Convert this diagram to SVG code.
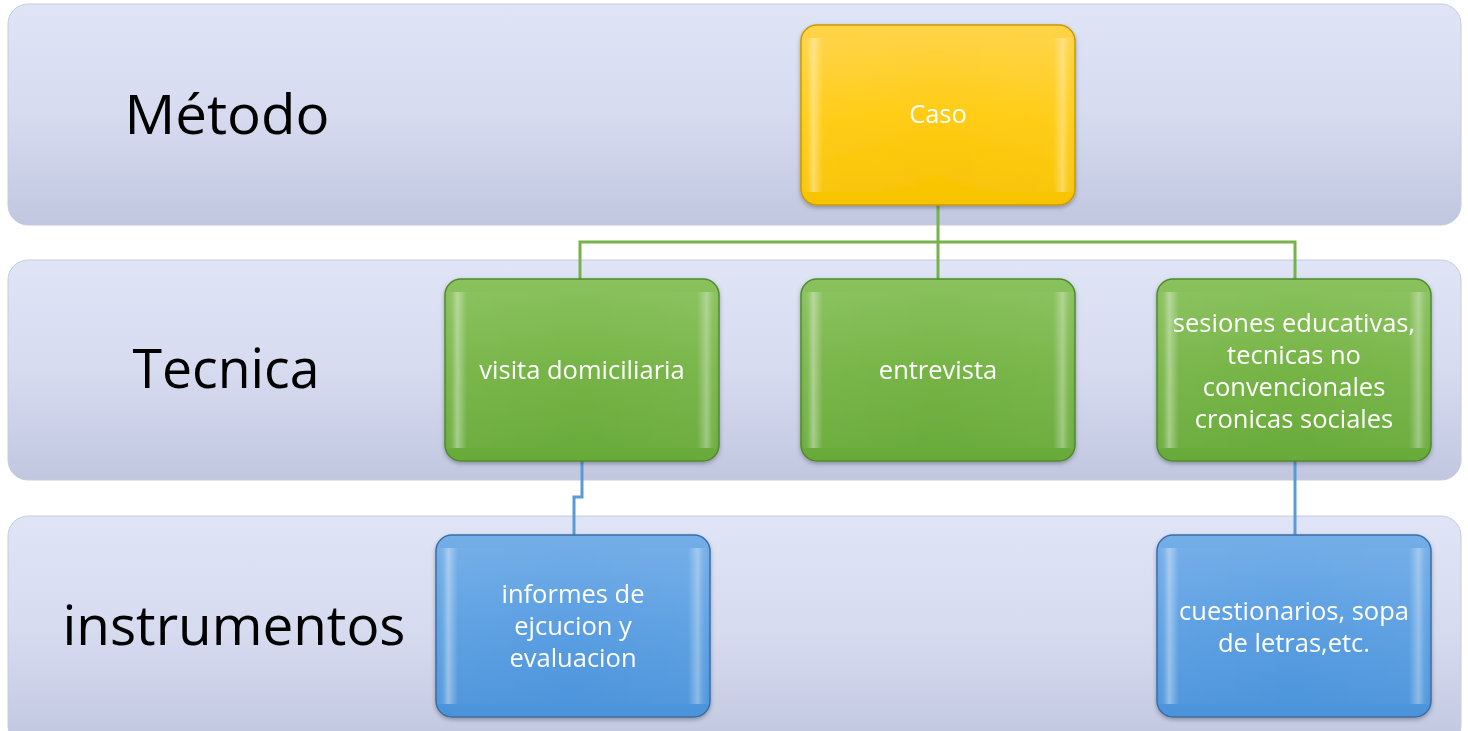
<svg xmlns="http://www.w3.org/2000/svg" width="1468" height="731" viewBox="0 0 1468 731">
<defs>
<linearGradient id="band" x1="0" y1="0" x2="0" y2="1">
<stop offset="0" stop-color="#dfe4f6"/><stop offset="0.5" stop-color="#d6dbf0"/><stop offset="1" stop-color="#c1c7df"/>
</linearGradient>
<linearGradient id="gy" x1="0" y1="0" x2="0" y2="1">
<stop offset="0" stop-color="#ffd449"/><stop offset="0.5" stop-color="#ffcc14"/><stop offset="1" stop-color="#f7c300"/>
</linearGradient>
<linearGradient id="gg" x1="0" y1="0" x2="0" y2="1">
<stop offset="0" stop-color="#8ac25e"/><stop offset="0.5" stop-color="#76b446"/><stop offset="1" stop-color="#68aa3a"/>
</linearGradient>
<linearGradient id="gb" x1="0" y1="0" x2="0" y2="1">
<stop offset="0" stop-color="#74aee8"/><stop offset="0.5" stop-color="#5b9fe2"/><stop offset="1" stop-color="#4b93da"/>
</linearGradient>
<linearGradient id="bevel" x1="0" y1="0" x2="1" y2="0">
<stop offset="0" stop-color="#fff" stop-opacity="0"/>
<stop offset="0.025" stop-color="#fff" stop-opacity="0.1"/>
<stop offset="0.045" stop-color="#fff" stop-opacity="0.4"/>
<stop offset="0.08" stop-color="#fff" stop-opacity="0.03"/>
<stop offset="0.5" stop-color="#fff" stop-opacity="0"/>
<stop offset="0.92" stop-color="#fff" stop-opacity="0.03"/>
<stop offset="0.955" stop-color="#fff" stop-opacity="0.35"/>
<stop offset="0.975" stop-color="#fff" stop-opacity="0.1"/>
<stop offset="1" stop-color="#fff" stop-opacity="0"/>
</linearGradient>
<filter id="sh" x="-10%" y="-10%" width="120%" height="125%">
<feDropShadow dx="0" dy="2" stdDeviation="2" flood-color="#000" flood-opacity="0.3"/>
</filter>
</defs>
<style>
.band{fill:url(#band);stroke:#c6cbe0;stroke-width:1}
.lbl{font-family:"Open Sans","Liberation Sans",sans-serif;font-size:55px;fill:#000;text-anchor:middle}
.nt{font-family:"Open Sans","Liberation Sans",sans-serif;font-size:25.5px;fill:#fff;text-anchor:middle}
.y{fill:url(#gy);stroke:#c79b00;stroke-width:1.5}
.g{fill:url(#gg);stroke:#4f8a2d;stroke-width:1.5}
.b{fill:url(#gb);stroke:#3b6ea5;stroke-width:1.5}
.bv{fill:url(#bevel)}
.cg{fill:none;stroke:#77b24a;stroke-width:3}
.cb{fill:none;stroke:#5b9bd5;stroke-width:3}
</style>
<rect width="1468" height="731" fill="#ffffff"/>
<g id="band-metodo">
<rect class="band" x="8" y="4" width="1453" height="221" rx="20"/>
<text class="lbl" x="227" y="134" textLength="205" lengthAdjust="spacingAndGlyphs">Método</text>
</g>
<g id="band-tecnica">
<rect class="band" x="8" y="260" width="1453" height="220" rx="20"/>
<text class="lbl" x="226" y="388" textLength="187" lengthAdjust="spacingAndGlyphs">Tecnica</text>
</g>
<g id="band-instrumentos">
<rect class="band" x="8" y="516" width="1453" height="230" rx="20"/>
<text class="lbl" x="234" y="645" textLength="343" lengthAdjust="spacingAndGlyphs">instrumentos</text>
</g>
<g id="connectors">
<path class="cg" d="M938 205 V242 M580 279 V242 H1295 V279 M938 242 V279"/>
<path class="cb" d="M582 461 V497 H574 V535"/>
<path class="cb" d="M1295 461 V535"/>
</g>
<g id="caso" filter="url(#sh)">
<rect class="y" x="801" y="25" width="274" height="180" rx="16"/>
<rect class="bv" x="801" y="38" width="274" height="154"/>
<text class="nt" x="938" y="123">Caso</text>
</g>
<g id="visita" filter="url(#sh)">
<rect class="g" x="445" y="279" width="274" height="182" rx="16"/>
<rect class="bv" x="445" y="292" width="274" height="156"/>
<text class="nt" x="582" y="379">visita domiciliaria</text>
</g>
<g id="entrevista" filter="url(#sh)">
<rect class="g" x="801" y="279" width="274" height="182" rx="16"/>
<rect class="bv" x="801" y="292" width="274" height="156"/>
<text class="nt" x="938" y="379">entrevista</text>
</g>
<g id="sesiones" filter="url(#sh)">
<rect class="g" x="1157" y="279" width="274" height="182" rx="16"/>
<rect class="bv" x="1157" y="292" width="274" height="156"/>
<text class="nt" x="1294" y="332">sesiones educativas,</text>
<text class="nt" x="1294" y="364">tecnicas no</text>
<text class="nt" x="1294" y="396">convencionales</text>
<text class="nt" x="1294" y="428">cronicas sociales</text>
</g>
<g id="informes" filter="url(#sh)">
<rect class="b" x="436" y="535" width="274" height="182" rx="16"/>
<rect class="bv" x="436" y="548" width="274" height="156"/>
<text class="nt" x="573" y="603">informes de</text>
<text class="nt" x="573" y="635">ejcucion y</text>
<text class="nt" x="573" y="667">evaluacion</text>
</g>
<g id="cuestionarios" filter="url(#sh)">
<rect class="b" x="1157" y="535" width="274" height="182" rx="16"/>
<rect class="bv" x="1157" y="548" width="274" height="156"/>
<text class="nt" x="1294" y="620">cuestionarios, sopa</text>
<text class="nt" x="1294" y="652">de letras,etc.</text>
</g>
</svg>
